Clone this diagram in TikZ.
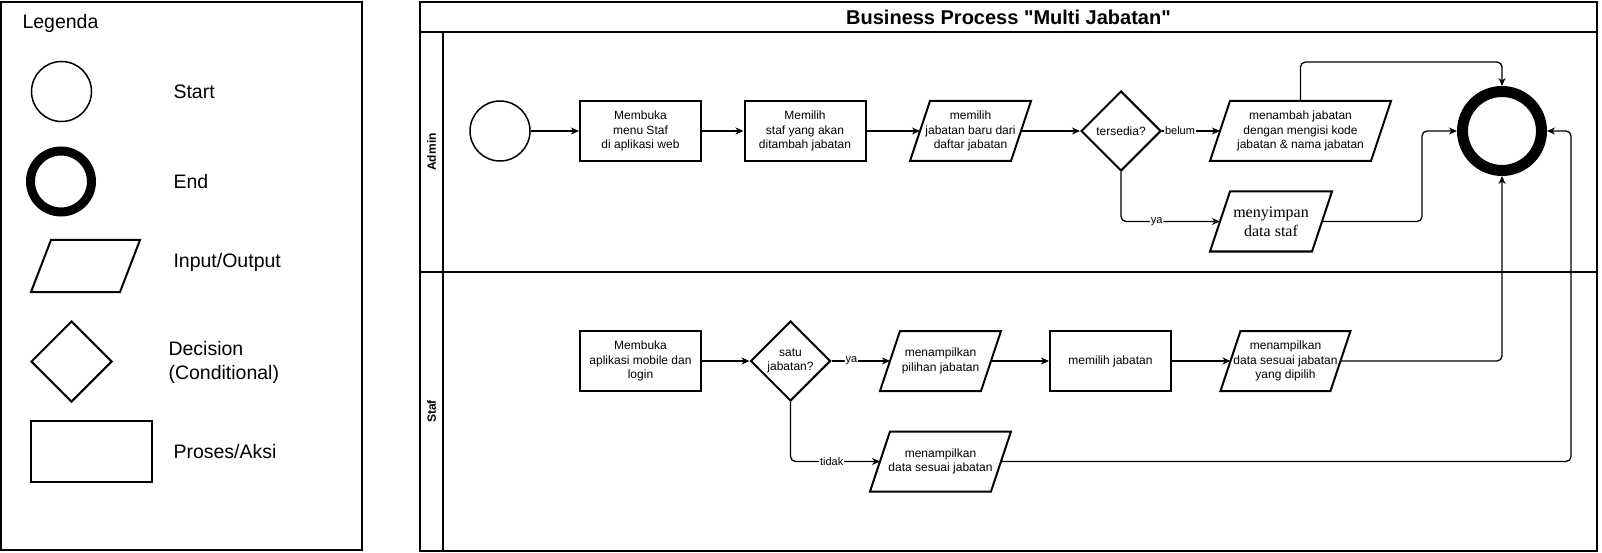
\documentclass[tikz,border=0pt]{standalone}
\usepackage{fontspec}
\usepackage{tikz}
\usetikzlibrary{shapes.geometric,arrows.meta}
\setmainfont{Liberation Sans}
\newfontfamily\serifText{Liberation Serif}
\newfontfamily\titleText{Liberation Sans}
\newcommand{\boxFont}[0]{\fontsize{12}{14.5}\selectfont}
\newcommand{\legendFont}[0]{\fontsize{19.5}{24}\selectfont}
\newcommand{\ioBox}[5][]{%
  \node[io, minimum width=#4, #1] (#2) at #3 {#5};
  \draw[io line] ([xshift=10pt]#2.north west) -- ([xshift=10pt]#2.north east)
    -- ([xshift=-10pt]#2.south east) -- ([xshift=-10pt]#2.south west) -- cycle;
}

\begin{document}
\begin{tikzpicture}[x=1pt, y=-1pt, >={Stealth[length=8pt,width=7pt,inset=2.5pt]}]
  \tikzset{
    pool/.style={draw, line width=1.3pt},
    start/.style={draw, circle, line width=1.5pt, minimum size=60pt, inner sep=0pt},
    finish/.style={draw, circle, line width=11pt, minimum size=79pt, inner sep=0pt},
    process/.style={draw, line width=2pt, minimum width=121pt, minimum height=60pt,
      inner sep=0pt, align=center, font=\boxFont},
    decision/.style={draw, diamond, line width=2pt, minimum size=80pt, inner sep=0pt,
      align=center, font=\boxFont},
    io/.style={rectangle, outer sep=0pt, minimum height=60pt, inner sep=0pt,
      align=center, font=\boxFont},
    io line/.style={line width=2pt, line join=miter},
    flow/.style={->, line width=1.3pt, rounded corners=5pt},
    edge label/.style={fill=white, inner sep=1pt, font=\fontsize{11}{13}\selectfont},
    lane label/.style={rotate=90, font=\bfseries\fontsize{12}{14}\selectfont},
    legend text/.style={anchor=west, align=left, font=\legendFont}
  }
  \useasboundingbox (0,0) rectangle (1602,553);

  % legenda
  \draw[line width=1.5pt] (1,2) rectangle (362,550);
  \node[legend text] (legend-title) at (19,23) {Legenda};
  \node[start] (legend-start) at (61.5,91.5) {};
  \node[legend text] at (170,92) {Start};
  \node[finish, line width=9pt, minimum size=61pt] (legend-end) at (61,181.5) {};
  \node[legend text] at (170,182) {End};
  \ioBox[minimum height=52pt]{legend-io}{(85.5,266)}{89pt}{}
  \node[legend text] at (170,262) {Input/Output};
  \node[decision, minimum size=81pt] (legend-decision) at (71.5,361.5) {};
  \node[legend text] at (165,362) {Decision\\(Conditional)};
  \node[process, minimum height=61pt] (legend-process) at (91.5,451.5) {};
  \node[legend text] at (170,452) {Proses/Aksi};

  % pool dan lane
  \draw[pool] (420,2) rectangle (1597,551);
  \draw[line width=2pt] (420,2) rectangle (1597,32);
  \node[font=\titleText\bfseries\fontsize{20}{24}\selectfont] (title) at (1008.5,17)
    {Business Process "Multi Jabatan"};
  \draw[pool] (443,32) -- (443,551);
  \draw[pool] (420,272) -- (1597,272);
  \node[lane label] (lane-admin) at (431.5,152) {Admin};
  \node[lane label] (lane-staf) at (431.5,411.5) {Staf};

  % admin
  \node[start] (admin-0) at (500,131) {};
  \node[process] (admin-1) at (640.5,131) {Membuka\\menu Staf\\di aplikasi web};
  \node[process] (admin-2) at (805,131) {Memilih\\staf yang akan\\ditambah jabatan};
  \ioBox{admin-3}{(970.5,131)}{101pt}{memilih\\jabatan baru dari\\daftar jabatan}
  \node[decision] (admin-4) at (1121,131) {tersedia?};
  \ioBox{admin-5}{(1300.5,131)}{161pt}{menambah jabatan\\dengan mengisi kode\\jabatan \& nama jabatan}
  \ioBox[font=\serifText\fontsize{16}{19}\selectfont]{admin-6}{(1271,221.5)}{102pt}{menyimpan\\data staf}
  \node[finish] (finish) at (1502,131) {};

  % staf
  \node[process] (staf-1) at (640.5,361) {Membuka\\aplikasi mobile dan\\login};
  \node[decision] (staf-2) at (790.5,361) {satu\\jabatan?};
  \ioBox{staf-3}{(940.5,361)}{101pt}{menampilkan\\pilihan jabatan}
  \node[process] (staf-4) at (1110.5,361) {memilih jabatan};
  \ioBox{staf-5}{(940.5,461.5)}{121pt}{menampilkan\\data sesuai jabatan}
  \ioBox{staf-6}{(1285.5,361)}{110pt}{menampilkan\\data sesuai jabatan\\yang dipilih}
  \coordinate (back-1) at (1571,131);

  \draw[flow] (admin-0) -- (admin-1);
  \draw[flow] (admin-1) -- (admin-2);
  \draw[flow] (admin-2) -- (admin-3);
  \draw[flow] (admin-3) -- (admin-4);
  \draw[flow] (admin-4) -- node[edge label, pos=0.31] {belum} (admin-5);
  \draw[flow] (admin-4.south) |- node[edge label, pos=0.68] {ya} (admin-6.west);
  \draw[flow] (admin-5.north) -- ++(0,-39) -| (finish.north);
  \draw[flow] (admin-6.east) -- ++(100,0) |- (finish.west);
  \draw[flow] (staf-1) -- (staf-2);
  \draw[flow] (staf-2) -- node[edge label, pos=0.34] {ya} (staf-3);
  \draw[flow] (staf-2.south) |- node[edge label, pos=0.73] {tidak} (staf-5.west);
  \draw[flow] (staf-3) -- (staf-4);
  \draw[flow] (staf-4) -- (staf-6);
  \draw[flow] (staf-6.east) -| (finish.south);
  \draw[flow] (staf-5.east) -| (back-1) -- (finish.east);
\end{tikzpicture}
\end{document}
